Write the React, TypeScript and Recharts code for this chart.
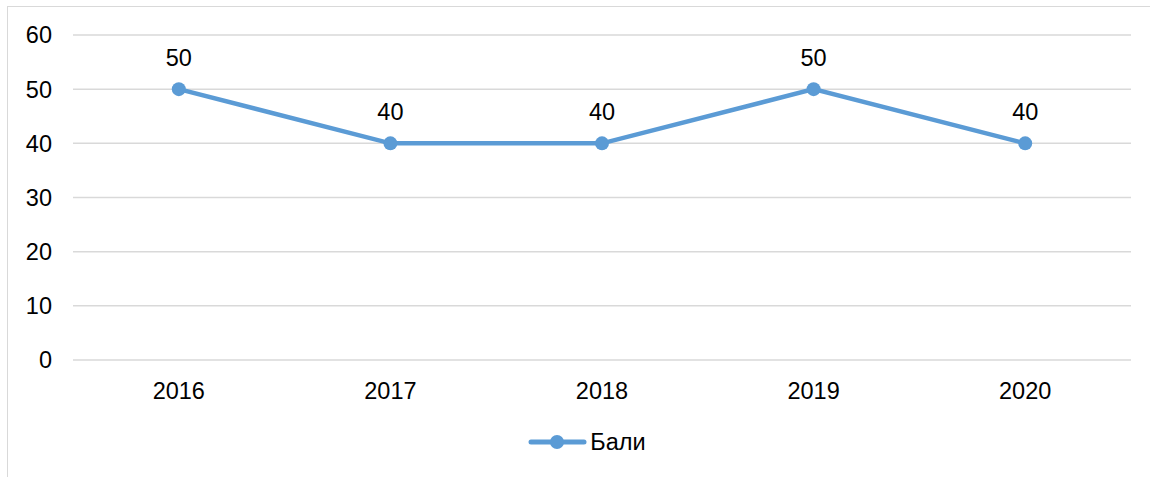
import React from 'react';
import { LineChart, Line, XAxis, YAxis, CartesianGrid, Legend, LabelList } from 'recharts';

const years = ['2016', '2017', '2018', '2019', '2020'];
const scores = [50, 40, 40, 50, 40];
const yTicks = [0, 10, 20, 30, 40, 50, 60];
const seriesName = 'Бали';

const data = years.map((y, i) => ({ year: y, value: scores[i] }));

const FONT = '"Liberation Sans", Arial, sans-serif';
const COLOR = '#5b9bd5';
const FS = 23.5;

const LegendContent = () => (
  <div style={{ display: 'flex', justifyContent: 'center', alignItems: 'center', height: 40, paddingLeft: 24, boxSizing: 'border-box', fontFamily: FONT, fontSize: FS, color: '#000' }}>
    <svg width={60} height={20} style={{ marginRight: 2 }}>
      <line x1={3} y1={10} x2={56} y2={10} stroke={COLOR} strokeWidth={5} strokeLinecap="round" />
      <circle cx={29} cy={10} r={7} fill={COLOR} />
    </svg>
    <span>{seriesName}</span>
  </div>
);

export default function App() {
  return (
    <div style={{ position: 'absolute', left: 0, top: 0, width: 1150, height: 477, background: '#fff' }}>
      <div style={{ position: 'absolute', left: 7, top: 6, width: 1200, height: 500, borderLeft: '1px solid #d9d9d9', borderTop: '1px solid #d9d9d9' }} />
      <LineChart width={1150} height={477} data={data} margin={{ top: 35, right: 19, left: 0, bottom: 0 }} style={{ fontFamily: FONT }}>
        <CartesianGrid vertical={false} stroke="#d9d9d9" strokeWidth={1.5} />
        <XAxis dataKey="year" scale="band" axisLine={false} tickLine={false} height={77} tickSize={6} tickMargin={16} tick={{ fill: '#000', fontSize: FS, fontFamily: FONT }} />
        <YAxis domain={[0, 60]} ticks={yTicks} axisLine={false} tickLine={false} width={73} tickSize={6} tickMargin={15} tick={{ fill: '#000', fontSize: FS, fontFamily: FONT }} interval={0} />
        <Legend verticalAlign="bottom" height={40} content={<LegendContent />} wrapperStyle={{ position: 'absolute', top: 422, left: 0, width: 1150 }} />
        <Line type="linear" dataKey="value" name={seriesName} stroke={COLOR} strokeWidth={4.5} dot={{ r: 7, fill: COLOR, stroke: COLOR, strokeWidth: 0 }} activeDot={false} isAnimationActive={false}>
          <LabelList dataKey="value" position="top" offset={23} fill="#000" fontSize={FS} fontFamily={FONT} />
        </Line>
      </LineChart>
    </div>
  );
}
